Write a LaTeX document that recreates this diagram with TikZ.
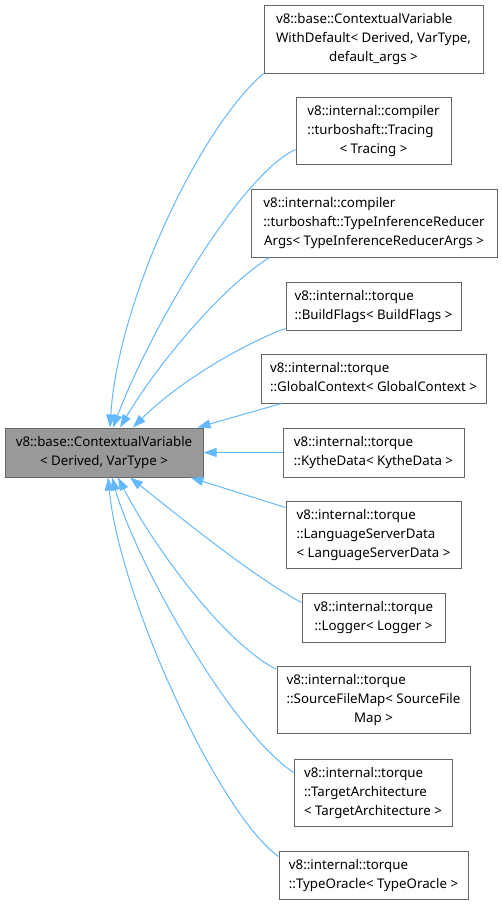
\documentclass[tikz,border=0pt]{standalone}
\usepackage{fontspec}
\setmainfont{Noto Sans}
\usetikzlibrary{arrows.meta}
\usepackage{xcolor}
\definecolor{dxedge}{HTML}{63B8FF}
\definecolor{dxline}{HTML}{666666}
\definecolor{dxbase}{HTML}{999999}
\newcommand{\dxlabel}[2]{\begin{tabular}{@{}l@{}}#1\\\multicolumn{1}{@{}c@{}}{#2}\end{tabular}}

\begin{document}
\begin{tikzpicture}[x=1pt, y=-1pt,
  cls/.style = {rectangle, draw=dxline, fill=white, line width=1pt,
                inner xsep=2pt, inner ysep=0pt, text=black,
                font=\fontsize{13.3}{19}\selectfont},
  cur/.style = {cls, fill=dxbase},
  inh/.style = {-{Triangle[length=13pt, width=9pt]}, draw=dxedge, line width=1pt}
]
\useasboundingbox (0,0) rectangle (502,905);
\node[cur, minimum width=198, minimum height=49] (base) at (104,452.5)
  {\dxlabel{v8::base::ContextualVariable}{< Derived, VarType >}};
\node[cls, minimum width=219, minimum height=68] (wd) at (373.5,39)
  {\dxlabel{v8::base::ContextualVariable\\WithDefault< Derived, VarType,}{default\_args >}};
\node[cls, minimum width=155, minimum height=67] (trc) at (373.5,130.5)
  {\dxlabel{v8::internal::compiler\\::turboshaft::Tracing}{< Tracing >}};
\node[cls, minimum width=246, minimum height=68] (tir) at (374,223)
  {\dxlabel{v8::internal::compiler\\::turboshaft::TypeInferenceReducer}{Args< TypeInferenceReducerArgs >}};
\node[cls, minimum width=175, minimum height=48] (bfl) at (373.5,306)
  {\dxlabel{v8::internal::torque}{::BuildFlags< BuildFlags >}};
\node[cls, minimum width=225, minimum height=49] (gcx) at (373.5,378.5)
  {\dxlabel{v8::internal::torque}{::GlobalContext< GlobalContext >}};
\node[cls, minimum width=181, minimum height=49] (kyd) at (373.5,452.5)
  {\dxlabel{v8::internal::torque}{::KytheData< KytheData >}};
\node[cls, minimum width=175, minimum height=67] (lsd) at (373.5,534.5)
  {\dxlabel{v8::internal::torque\\::LanguageServerData}{< LanguageServerData >}};
\node[cls, minimum width=143, minimum height=49] (lgr) at (373.5,617.5)
  {\dxlabel{v8::internal::torque}{::Logger< Logger >}};
\node[cls, minimum width=193, minimum height=67] (sfm) at (373.5,699.5)
  {\dxlabel{v8::internal::torque\\::SourceFileMap< SourceFile}{Map >}};
\node[cls, minimum width=158, minimum height=67] (tar) at (373,792.5)
  {\dxlabel{v8::internal::torque\\::TargetArchitecture}{< TargetArchitecture >}};
\node[cls, minimum width=189, minimum height=48] (orc) at (373.5,875)
  {\dxlabel{v8::internal::torque}{::TypeOracle< TypeOracle >}};
\draw[inh] (wd.south west) .. controls (200,128) and (118,300) .. ([xshift=6]base.north);
\draw[inh] ([yshift=-19]trc.west) .. controls (240,175) and (150,330) .. ([xshift=9]base.north);
\draw[inh] ([xshift=19]tir.south west) .. controls (225,285) and (160,360) .. ([xshift=16]base.north);
\draw[inh] ([yshift=2]bfl.south west) .. controls (240,345) and (175,385) .. ([xshift=29]base.north);
\draw[inh] ([xshift=21]gcx.south west) -- ([xshift=-6]base.north east);
\draw[inh] (kyd) -- (base);
\draw[inh] ([yshift=-7]lsd.north west) -- ([xshift=-13]base.south east);
\draw[inh] ([yshift=15]lgr.west) .. controls (250,575) and (165,505) .. ([xshift=26]base.south);
\draw[inh] ([yshift=-4]sfm.north west) .. controls (220,640) and (150,540) .. ([xshift=14]base.south);
\draw[inh] ([yshift=20]tar.west) .. controls (230,730) and (135,560) .. ([xshift=8]base.south);
\draw[inh] ([yshift=-6]orc.north west) .. controls (220,815) and (120,600) .. ([xshift=4]base.south);
\end{tikzpicture}
\end{document}
